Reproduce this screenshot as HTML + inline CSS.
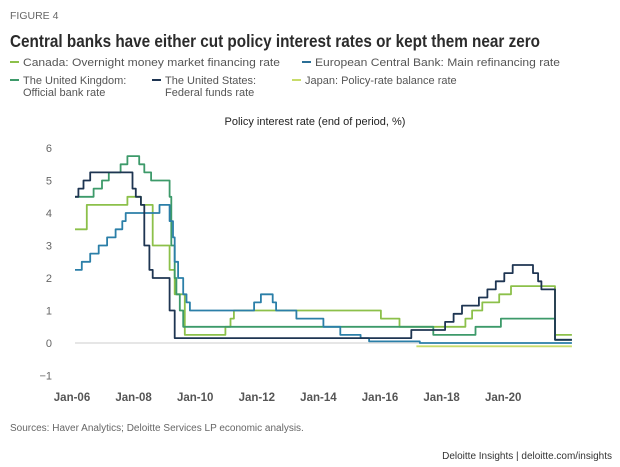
<!DOCTYPE html>
<html><head><meta charset="utf-8"><style>
body{margin:0;background:#fff}
svg{display:block;font-family:"Liberation Sans",sans-serif}
</style></head><body>
<svg id="chart" width="620" height="467" viewBox="0 0 620 467">
<text x="10" y="19" font-size="10.5" fill="#666">FIGURE 4</text>
<text x="10" y="47" font-size="17.5" font-weight="bold" fill="#2b2b2b" textLength="530" lengthAdjust="spacingAndGlyphs">Central banks have either cut policy interest rates or kept them near zero</text>
<g font-size="11" fill="#555">
 <g><line x1="10" y1="62" x2="19" y2="62" stroke="#8cc04a" stroke-width="2"/><text x="23" y="66" textLength="257" lengthAdjust="spacingAndGlyphs">Canada: Overnight money market financing rate</text></g>
 <g><line x1="302" y1="62" x2="311" y2="62" stroke="#2b6f96" stroke-width="2"/><text x="315" y="66" textLength="245" lengthAdjust="spacingAndGlyphs">European Central Bank: Main refinancing rate</text></g>
 <g><line x1="10" y1="80" x2="19" y2="80" stroke="#3d9a6a" stroke-width="2"/><text x="23" y="84">The United Kingdom:</text><text x="23" y="96">Official bank rate</text></g>
 <g><line x1="152" y1="80" x2="161" y2="80" stroke="#1e3552" stroke-width="2"/><text x="165" y="84">The United States:</text><text x="165" y="96">Federal funds rate</text></g>
 <g><line x1="292" y1="80" x2="301" y2="80" stroke="#c8dc6a" stroke-width="2"/><text x="305" y="84">Japan: Policy-rate balance rate</text></g>
</g>
<text x="315" y="125" font-size="11" fill="#222" text-anchor="middle">Policy interest rate (end of period, %)</text>
<g id="yaxis"></g>
<g id="xaxis"></g>
<g id="series"></g>
<text x="10" y="431" font-size="10" fill="#666">Sources: Haver Analytics; Deloitte Services LP economic analysis.</text>
<text x="612" y="459" font-size="10" fill="#333" text-anchor="end">Deloitte Insights | deloitte.com/insights</text>
</svg>
<script>
const yTicks=[6,5,4,3,2,1,0,-1];
const yTickLabels=["6","5","4","3","2","1","0","\u22121"];
const xTickLabels=["Jan-06","Jan-08","Jan-10","Jan-12","Jan-14","Jan-16","Jan-18","Jan-20"];
const canadaT=[2006.0,2006.35,2007.55,2007.95,2008.3,2008.8,2008.95,2009.25,2010.45,2010.6,2010.7,2015.05,2015.6,2017.55,2017.75,2018.05,2018.55,2018.9,2020.2,2020.7];
const canadaV=[3.5,4.25,4.5,4.25,3.0,2.25,1.5,0.25,0.5,0.75,1.0,0.75,0.5,0.75,1.0,1.25,1.5,1.75,0.25,0.25];
const ecbT=[2006.0,2006.2,2006.45,2006.7,2006.95,2007.2,2007.4,2007.5,2008.5,2008.8,2008.9,2008.95,2009.05,2009.2,2009.3,2009.4,2011.3,2011.5,2011.85,2011.95,2012.55,2013.35,2013.85,2014.45,2014.7,2016.2,2020.7];
const ecbV=[2.25,2.5,2.75,3.0,3.25,3.5,3.75,4.0,4.25,3.75,3.25,2.5,2.0,1.5,1.25,1.0,1.25,1.5,1.25,1.0,0.75,0.5,0.25,0.15,0.05,0.0,0.0];
const ukT=[2006.0,2006.55,2006.8,2007.0,2007.35,2007.55,2007.9,2008.05,2008.25,2008.35,2008.8,2008.85,2008.95,2009.0,2009.1,2009.2,2016.6,2017.85,2018.6,2020.2,2020.7];
const ukV=[4.5,4.75,5.0,5.25,5.5,5.75,5.5,5.25,5.0,5.0,4.5,3.0,2.0,1.5,1.0,0.5,0.25,0.5,0.75,0.1,0.1];
const usT=[2006.0,2006.1,2006.25,2006.45,2007.7,2007.8,2007.95,2008.05,2008.2,2008.3,2008.8,2008.95,2015.95,2016.95,2017.2,2017.45,2017.95,2018.2,2018.45,2018.7,2018.95,2019.55,2019.7,2019.8,2020.2,2020.7];
const usV=[4.5,4.75,5.0,5.25,4.75,4.5,4.25,3.0,2.25,2.0,1.0,0.15,0.4,0.65,0.9,1.15,1.4,1.65,1.9,2.15,2.4,2.15,1.9,1.65,0.1,0.1];
const japanT=[2016.1,2020.7];
const japanV=[-0.1,-0.1];

const NS="http://www.w3.org/2000/svg";
function x(t){return 75+(t-2006)*33.8;}
function y(v){return 343-v*32.5;}
function mk(tag,attrs,parent){const e=document.createElementNS(NS,tag);for(const k in attrs)e.setAttribute(k,attrs[k]);parent.appendChild(e);return e;}
const ya=document.getElementById('yaxis');
yTicks.forEach((v,i)=>{
  const t=mk('text',{x:52,y:y(v)+4,'font-size':11,fill:'#666','text-anchor':'end'},ya);
  
  
  t.textContent=yTickLabels[i];
});
const zl=mk('line',{x1:x(2006),x2:x(2020.7),y1:y(0),y2:y(0),stroke:'#d8d8d8','stroke-width':1.2},ya);


const xa=document.getElementById('xaxis');
xTickLabels.forEach((l,i)=>{
  const t=mk('text',{x:72+i*61.6,y:401,'font-size':11.5,'font-weight':'bold',fill:'#555','text-anchor':'middle'},xa);
  
  
  t.textContent=l;
});
function step(T,V){let d='M'+x(T[0]).toFixed(1)+','+y(V[0]).toFixed(1);
  for(let i=1;i<T.length;i++){d+='H'+x(T[i]).toFixed(1)+'V'+y(V[i]).toFixed(1);}return d;}
const sg=document.getElementById('series');
const defs=[[japanT,japanV,'#c8dc6a','series-japan'],[canadaT,canadaV,'#8cc04a','series-canada'],[ukT,ukV,'#3d9a6a','series-uk'],[ecbT,ecbV,'#2b7fa8','series-ecb'],[usT,usV,'#1e3552','series-us']];
defs.forEach(s=>{
  const p=mk('path',{d:step(s[0],s[1]),fill:'none',stroke:s[2],'stroke-width':1.8,'stroke-linejoin':'round'},sg);
  
  
});
</script>
</body></html>
